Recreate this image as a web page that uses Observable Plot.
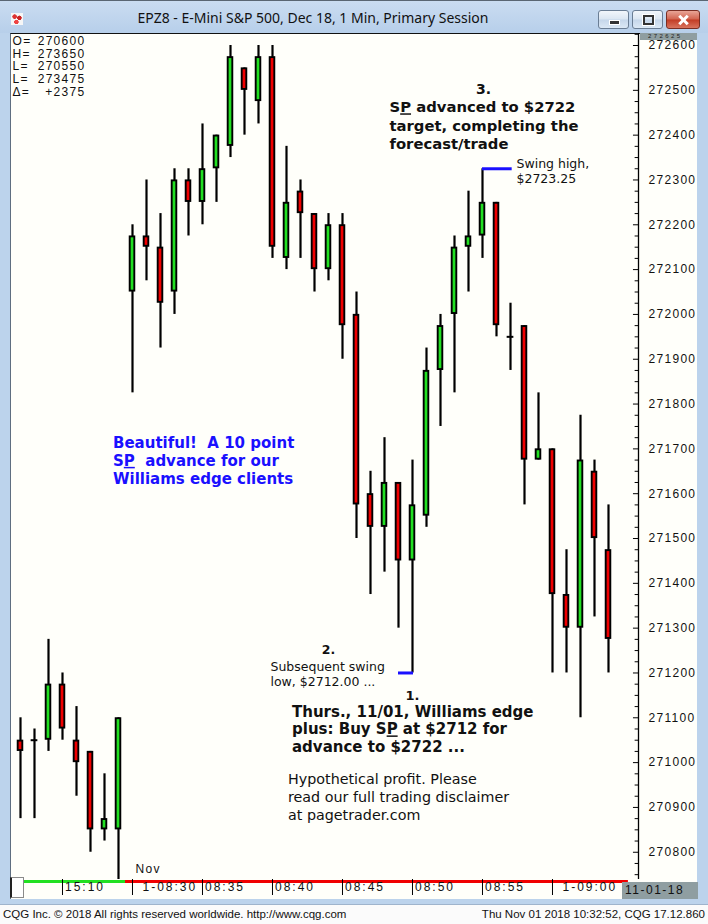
<!DOCTYPE html>
<html>
<head>
<meta charset="utf-8">
<script src="https://cdn.jsdelivr.net/npm/d3@7"></script>
<script src="https://cdn.jsdelivr.net/npm/@observablehq/plot@0.6"></script>
<style>
html,body{margin:0;padding:0;width:708px;height:924px;overflow:hidden;background:#bcd3ec;font-family:"Liberation Sans",Arial,sans-serif;}
#titlebar{position:absolute;left:0;top:0;width:708px;height:33px;background:linear-gradient(#cadcf1,#b7cfea);border-top:1px solid #5a6673;box-sizing:border-box;}
#title{position:absolute;left:0;width:626px;top:7px;text-align:center;font:14px "Noto Sans",sans-serif;color:#111;}
#icon{position:absolute;left:11px;top:12px;width:12px;height:12px;background:
 radial-gradient(circle at 30% 30%,#d33 0 2px,transparent 2.5px),
 radial-gradient(circle at 70% 40%,#c22 0 2px,transparent 2.5px),
 radial-gradient(circle at 45% 75%,#e44 0 2px,transparent 2.5px),#f6f6f6;}
.btn{position:absolute;top:9px;height:19px;border:1px solid #6a7d94;border-radius:3px;box-sizing:border-box;
 background:linear-gradient(#f2f6fb,#dbe6f2 48%,#c5d6ea 52%,#dbe8f5);}
#bmin{left:598px;width:31px;}
#bmax{left:632px;width:31px;}
#bclose{left:666px;width:34px;border-color:#7a2e24;background:linear-gradient(#e9a597,#d26450 48%,#c23c25 52%,#d9745e);}
#bmin i{position:absolute;left:10px;top:9px;width:9px;height:3px;background:#333;border:1px solid #fff;}
#bmax i{position:absolute;left:10px;top:4px;width:7px;height:6px;border:2px solid #333;outline:1px solid #fff;}
#bclose i,#bclose b{position:absolute;left:15px;top:3px;width:3px;height:12px;background:#fff;}
#bclose i{transform:rotate(45deg);} #bclose b{transform:rotate(-45deg);}
#panel{position:absolute;left:10px;top:33px;width:687px;height:866px;background:#fffffa;border-top:1px solid #111;border-left:1px solid #5e6e80;box-sizing:border-box;}
#chart{position:absolute;left:0;top:33px;}
#lastbox{position:absolute;left:640px;top:33px;width:57px;height:7px;background:#8f9ea1;}
#lastbox span{position:absolute;left:8px;top:0px;font-size:6px;line-height:6px;letter-spacing:2.4px;color:#222;}
#datebox{position:absolute;left:622px;top:882px;width:76px;height:17px;background:#8f9ea1;color:#111;font-size:12px;letter-spacing:1.5px;line-height:17px;padding-left:3px;box-sizing:border-box;}
#thumb{position:absolute;left:10px;top:877px;width:14px;height:21px;background:#fff;border:1px solid #8a8a8a;box-sizing:border-box;border-left:2px solid #222;}
#status{position:absolute;left:0;top:904px;width:708px;height:20px;background:#fbfbfb;font-size:11.5px;color:#111;border-top:1px solid #9fb4cc;}
#status .l{position:absolute;left:3px;top:3px;}
#status .r{position:absolute;right:3px;top:3px;}
g[aria-description="cqg"] text, g[aria-label="y-axis tick label"] text{letter-spacing:1.3px;}
g[aria-description="time"] text{letter-spacing:2px;}
</style>
</head>
<body>
<div id="titlebar">
  <div id="icon"></div>
  <div id="title">EPZ8 - E-Mini S&amp;P 500, Dec 18, 1 Min, Primary Session</div>
  <div class="btn" id="bmin"><i></i></div>
  <div class="btn" id="bmax"><i></i></div>
  <div class="btn" id="bclose"><i></i><b></b></div>
</div>
<div id="panel"></div>
<div id="chart"></div>
<div id="lastbox"><span>272625</span></div>
<div id="thumb"></div>
<div id="datebox">11-01-18</div>
<div id="status"><span class="l">CQG Inc. © 2018 All rights reserved worldwide. http://www.cqg.com</span><span class="r">Thu Nov 01 2018 10:32:52, CQG 17.12.860</span></div>
<script>
// ---- data (prices x100, as shown by CQG) ----
const times = ["15:07","15:08","15:09","15:10","15:11","15:12","15:13","15:14",
  "08:30","08:31","08:32","08:33","08:34","08:35","08:36","08:37","08:38","08:39",
  "08:40","08:41","08:42","08:43","08:44","08:45","08:46","08:47","08:48","08:49",
  "08:50","08:51","08:52","08:53","08:54","08:55","08:56","08:57","08:58","08:59",
  "09:00","09:01","09:02","09:03","09:04"];
const opens = [271050,271050,271050,271175,271050,271025,270850,270850,
  272050,272175,272150,272050,272300,272250,272325,272375,272550,272475,
  272575,272125,272275,272225,272100,272200,272000,271600,271525,271625,
  271450,271550,271875,272000,272150,272175,272250,271950,271975,271675,
  271700,271375,271300,271650,271475];
const highs = [271100,271075,271275,271200,271125,271025,270975,271100,
  272200,272300,272225,272325,272325,272425,272400,272600,272550,272600,
  272600,272375,272300,272225,272225,272225,272050,271650,271725,271625,
  271675,271925,272000,272175,272275,272325,272250,272025,271975,271825,
  271700,271475,271775,271675,271575];
const lows = [270875,270875,271025,271050,270925,270800,270825,270725,
  271825,272075,271925,272000,272175,272200,272250,272350,272400,272425,
  272125,272100,272125,272050,272075,271900,271500,271375,271425,271300,
  271200,271525,271750,271825,272050,272125,271950,271875,271575,271675,
  271200,271200,271100,271325,271200];
const closes = [271025,271050,271175,271075,271000,270850,270875,271100,
  272175,272150,272025,272300,272250,272325,272400,272575,272500,272575,
  272150,272250,272225,272100,272200,271975,271575,271525,271625,271450,
  271575,271875,271975,272150,272175,272250,271975,271950,271675,271700,
  271375,271300,271675,271500,271275];
const timeTickAt = ["15:10","08:30","08:35","08:40","08:45","08:50","08:55","09:00"];
const timeTickLabels = ["15:10","1-08:30","08:35","08:40","08:45","08:50","08:55","1-09:00"];
const headerKeys = ["O=","H=","L=","L=","Δ="];
const headerVals = ["270600","273650","270550","273475","+2375"];
const yLabelTicks = d3.range(270800, 272601, 100);
const yMinorTicks = d3.range(270750, 272626, 25).filter(v => v % 100 !== 0);
const newSessionStart = "08:30";
const swingHighAt = "08:55";
const swingLowAt = "08:50";

// ---- derived tables ----
const candles = times.map((t, i) => ({i, t, open: opens[i], high: highs[i], low: lows[i], close: closes[i]}));
const up = candles.filter(d => d.close > d.open);
const down = candles.filter(d => d.close < d.open);
const doji = candles.filter(d => d.close === d.open);
const timeTicks = timeTickAt.map((t, k) => ({i: times.indexOf(t), label: timeTickLabels[k]}));
const sessIdx = times.indexOf(newSessionStart);
const hi = candles[times.indexOf(swingHighAt)];
const lo = candles[times.indexOf(swingLowAt)];

const xDomain = [-0.714, candles.length - 1 + 2.143];
const yDomain = [270739.2, 272626.8];
const GREEN = "#22e022", RED = "#f00000", BLUE = "#1a10ff", INK = "#111";
const bw = 0.165;
const BOLD = "DejaVu Sans, Verdana, sans-serif";

const chart = Plot.plot({
  width: 708, height: 866,
  marginLeft: 10, marginRight: 70, marginTop: 0, marginBottom: 20,
  x: {type: "linear", domain: xDomain, label: null},
  y: {domain: yDomain, label: null},
  style: {background: "transparent", fontFamily: "'Liberation Sans', Arial, sans-serif", fontSize: "12px", color: "#000", overflow: "visible"},
  marks: [
    // y axis: minor + major inward ticks, labels on right
    Plot.ruleY(yMinorTicks, {y: d => d, x1: xDomain[1] - 0.24, x2: xDomain[1], stroke: "#000", strokeWidth: 1}),
    Plot.ruleY(yLabelTicks, {y: d => d, x1: xDomain[1] - 0.36, x2: xDomain[1], stroke: "#000", strokeWidth: 1}),
    Plot.axisY(yLabelTicks, {anchor: "right", tickSize: 0, tickPadding: 10, tickFormat: "d", fontSize: 12, fill: "#111"}),
    Plot.ruleX([xDomain[1]], {stroke: "#000", strokeWidth: 1.3}),
    // session bar
    Plot.ruleY([yDomain[0]], {y: d => d, x1: xDomain[0], x2: sessIdx - 0.5, stroke: GREEN, strokeWidth: 3, dy: 2}),
    Plot.ruleY([yDomain[0]], {y: d => d, x1: sessIdx - 0.5, x2: xDomain[1] - 0.72, stroke: RED, strokeWidth: 3, dy: 2}),
    // time axis
    Plot.axisX(timeTicks.map(d => d.i), {anchor: "bottom", tickSize: 16, tickFormat: () => "", stroke: "#000"}),
    Plot.text(timeTicks.filter(d => !d.label.startsWith("1-")), {x: "i", text: "label", frameAnchor: "bottom", dy: 11, dx: 2.5, textAnchor: "start", fontSize: 12, fill: INK, ariaDescription: "time"}),
    Plot.text(timeTicks.filter(d => d.label.startsWith("1-")), {x: "i", text: "label", frameAnchor: "bottom", dy: 11, dx: 10, textAnchor: "start", fontSize: 12, fill: INK, ariaDescription: "time"}),
    Plot.text([{i: sessIdx, label: "Nov"}], {x: "i", text: "label", frameAnchor: "bottom", dy: -7, dx: 3, textAnchor: "start", fontSize: 12, fill: INK, ariaDescription: "cqg"}),
    // header O/H/L/L/Δ
    Plot.text([headerKeys.join("\n")], {text: d => d, frameAnchor: "top-left", dx: 2, dy: 32.8, lineHeight: 1.075, lineAnchor: "middle", textAnchor: "start", fontSize: 12, fill: INK, ariaDescription: "cqg"}),
    Plot.text([headerVals.join("\n")], {text: d => d, frameAnchor: "top-left", dx: 75, dy: 32.8, lineHeight: 1.075, lineAnchor: "middle", textAnchor: "end", fontSize: 12, fill: INK, ariaDescription: "cqg"}),
    // candles
    Plot.ruleX(candles, {x: "i", y1: "low", y2: "high", stroke: "#000", strokeWidth: 2.2, clip: true}),
    Plot.rect(up, {x1: d => d.i - bw, x2: d => d.i + bw, y1: "open", y2: "close", fill: GREEN, stroke: "#000", strokeWidth: 1.9, insetTop: 0.9, insetBottom: 0.9}),
    Plot.rect(down, {x1: d => d.i - bw, x2: d => d.i + bw, y1: "open", y2: "close", fill: RED, stroke: "#000", strokeWidth: 1.9, insetTop: 0.9, insetBottom: 0.9}),
    Plot.ruleY(doji, {y: "open", x1: d => d.i - 0.24, x2: d => d.i + 0.24, stroke: "#000", strokeWidth: 2}),
    // swing markers
    Plot.ruleY([hi], {y: "high", x1: "i", x2: d => d.i + 2.12, stroke: BLUE, strokeWidth: 3}),
    Plot.ruleY([lo], {y: "low", x1: d => d.i - 1, x2: d => d.i + 0.07, stroke: BLUE, strokeWidth: 3}),
    // annotations near swing high
    Plot.text([hi], {x: "i", y: "high", text: () => "3.", dx: 1, dy: -79, textAnchor: "middle", fontFamily: BOLD, fontWeight: "bold", fontSize: 14, fill: INK, ariaDescription: "note"}),
    Plot.text([hi], {x: "i", y: "high", text: () => "SP advanced to $2722\ntarget, completing the\nforecast/trade", dx: -93, dy: -44, textAnchor: "start", lineAnchor: "middle", lineHeight: 1.24, fontFamily: BOLD, fontWeight: "bold", fontSize: 14.8, fill: INK, ariaDescription: "note"}),
    Plot.text([hi], {x: "i", y: "high", text: () => "Swing high,\n$2723.25", dx: 34, dy: 2.2, textAnchor: "start", lineAnchor: "middle", lineHeight: 1.2, fontFamily: BOLD, fontSize: 12.5, fill: INK, ariaDescription: "note"}),
    // annotations near swing low
    Plot.text([lo], {x: "i", y: "low", text: () => "2.", dx: -84, dy: -22.5, textAnchor: "middle", fontFamily: BOLD, fontWeight: "bold", fontSize: 12.5, fill: INK, ariaDescription: "note"}),
    Plot.text([lo], {x: "i", y: "low", text: () => "Subsequent swing\nlow, $2712.00 ...", dx: -142, dy: 1, textAnchor: "start", lineAnchor: "middle", lineHeight: 1.2, fontFamily: BOLD, fontSize: 12.5, fill: INK, ariaDescription: "note"}),
    Plot.text([lo], {x: "i", y: "low", text: () => "1.", dx: 0, dy: 22.5, textAnchor: "middle", fontFamily: BOLD, fontWeight: "bold", fontSize: 13, fill: INK, ariaDescription: "note"}),
    Plot.text([lo], {x: "i", y: "low", text: () => "Thurs., 11/01, Williams edge\nplus: Buy SP at $2712 for\nadvance to $2722 ...", dx: -120.5, dy: 55.8, textAnchor: "start", lineAnchor: "middle", lineHeight: 1.17, fontFamily: BOLD, fontWeight: "bold", fontSize: 15, fill: INK, ariaDescription: "note"}),
    Plot.text([lo], {x: "i", y: "low", text: () => "Hypothetical profit. Please\nread our full trading disclaimer\nat pagetrader.com", dx: -124.5, dy: 123.5, textAnchor: "start", lineAnchor: "middle", lineHeight: 1.245, fontFamily: BOLD, fontSize: 14.3, fill: INK, ariaDescription: "note"}),
    // blue remark
    Plot.text([candles[sessIdx]], {x: "i", y: () => 271675, text: () => "Beautiful!\u00a0 A 10 point\nSP\u00a0 advance for our\nWilliams edge clients", dx: -19.5, dy: 0, textAnchor: "start", lineAnchor: "middle", lineHeight: 1.2, fontFamily: BOLD, fontWeight: "bold", fontSize: 15, fill: BLUE, ariaDescription: "note"})
  ]
});
document.getElementById("chart").appendChild(chart);

// underline the "P" of "SP" in the notes
const NS = "http://www.w3.org/2000/svg";
chart.querySelectorAll('g[aria-description="note"] text, g[aria-description="note"] tspan').forEach(node => {
  if (node.childNodes.length !== 1 || node.firstChild.nodeType !== 3) return;
  const t = node.textContent;
  if (!t.includes("SP")) return;
  const parts = t.split("SP");
  node.textContent = "";
  parts.forEach((p, k) => {
    if (k > 0) {
      node.append("S");
      const u = document.createElementNS(NS, "tspan");
      u.setAttribute("text-decoration", "underline");
      u.textContent = "P";
      node.append(u);
    }
    node.append(p);
  });
});
</script>
</body>
</html>
